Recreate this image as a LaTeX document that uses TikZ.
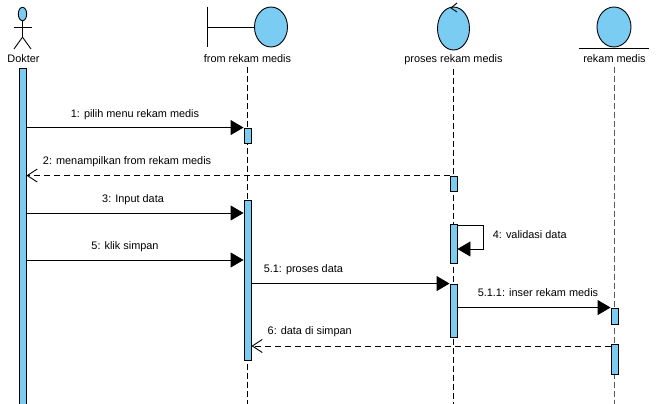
\documentclass[tikz,border=0pt]{standalone}
\usepackage{fontspec}
\setmainfont{Liberation Sans}
\usetikzlibrary{arrows.meta,positioning,shapes.geometric}
\definecolor{barblue}{RGB}{122,204,242}
\tikzset{>=latex}
\tikzstyle{msg}        = [-{Triangle[length=13pt,width=15pt]},
                          line width=0.9pt]
\tikzstyle{reply}      = [-{Straight Barb[length=10pt,width=13pt]},
                          line width=0.9pt,
                          dash pattern=on 6pt off 4pt]
\tikzstyle{lifeline}   = [line width=0.9pt,
                          dash pattern=on 6pt off 3pt]
\tikzstyle{activation} = [rectangle,
                          draw,
                          fill=barblue,
                          line width=0.9pt,
                          minimum width=7pt,
                          inner sep=0pt]
\tikzstyle{icon}       = [ellipse,
                          draw,
                          fill=barblue,
                          line width=0.9pt,
                          inner sep=0pt]
\tikzstyle{lbl}        = [font=\fontsize{10.9}{13}\selectfont,
                          inner sep=0pt,
                          anchor=base]
\begin{document}
\begin{tikzpicture}[x=1pt, y=-1pt, line width=0.9pt]
  \useasboundingbox (0,0) rectangle (657,404);

  % Heads
  \node[icon, minimum width=8.4pt, minimum height=13.4pt] (dokhead) at (22.5,14) {};
  \draw (dokhead.south) -- ++(0,16) coordinate (hip);
  \draw (13.5,27) -- (32,27);
  \draw (hip) -- (14,49);
  \draw (hip) -- (31,49);

  \node[icon, minimum width=33pt, minimum height=40pt] (frmhead) at (271,27) {};
  \draw (207,7) -- (207,47);
  \draw (207,27) -- (frmhead.west);

  \node[icon, minimum width=32pt, minimum height=43pt] (prohead) at (453.5,28.5) {};
  \draw (457,3) -- (451,8) -- (457,12);

  \node[icon, minimum width=34pt, minimum height=40pt] (rekhead) at (614,27) {};
  \draw (579,48) -- (649,48);

  \node[lbl] (ldok) at (23.5,63) {Dokter};
  \node[lbl] (lfrm) at (247.5,63) {from rekam medis};
  \node[lbl] (lpro) at (453.5,63) {proses rekam medis};
  \node[lbl] (lrek) at (614.5,63) {rekam medis};

  % Lifelines
  \coordinate (bot) at (0,406);
  \draw[lifeline] ([yshift=-3pt]lfrm.south) -- (lfrm |- bot);
  \draw[lifeline] ([yshift=-3pt]lpro.south) -- (lpro |- bot);
  \draw[lifeline, black!65] ([yshift=-3pt]lrek.south) -- (lrek |- bot);

  % Activations
  \node[activation, minimum height=340pt] (dok) at (22.5,238) {};
  \node[activation, minimum height=15pt] (frm1) at (247.5,135.5) {};
  \node[activation, minimum height=160pt] (frm2) at (247.5,280) {};
  \node[activation, minimum height=15pt] (pro1) at (453.5,183.5) {};
  \node[activation, minimum height=39pt] (pro2) at (453.5,243.5) {};
  \node[activation, minimum height=53pt] (pro3) at (453.5,310.5) {};
  \node[activation, minimum height=16pt] (rek1) at (614.5,316) {};
  \node[activation, minimum height=30pt] (rek2) at (614.5,359) {};

  % Messages
  \coordinate (y3) at (0,213);
  \coordinate (y4a) at (0,225);
  \coordinate (y4b) at (0,249);
  \coordinate (y5) at (0,260);
  \coordinate (y6) at (0,346);

  \draw[msg] (dok.east |- frm1.north) -- (frm1.north west)
    node[lbl, midway, yshift=10.5pt] {1: pilih menu rekam medis};
  \draw[reply] (pro1.north west) -- (dok.east |- pro1.north)
    node[lbl, pos=0.962, anchor=base west, yshift=11pt] {2: menampilkan from rekam medis};
  \draw[msg] (dok.east |- y3) -- (frm2.west |- y3)
    node[lbl, pos=0.491, yshift=11pt] {3: Input data};
  \draw[msg] (pro2.east |- y4a) -- ++(26,0)
    node[lbl, anchor=base west, xshift=9pt, yshift=-13pt] {4: validasi data}
    |- (pro2.east |- y4b);
  \draw[msg] (dok.east |- y5) -- (frm2.west |- y5)
    node[lbl, pos=0.454, yshift=11pt] {5: klik simpan};
  \draw[msg] (frm2.east |- pro3.north) -- (pro3.north west)
    node[lbl, pos=0.06, anchor=base west, yshift=11pt] {5.1: proses data};
  \draw[msg] (pro3.east |- rek1.north) -- (rek1.north west)
    node[lbl, pos=0.526, yshift=11pt] {5.1.1: inser rekam medis};
  \draw[reply] (rek2.west |- y6) -- (frm2.east |- y6)
    node[lbl, pos=0.956, anchor=base west, yshift=12pt] {6: data di simpan};

\end{tikzpicture}
\end{document}
